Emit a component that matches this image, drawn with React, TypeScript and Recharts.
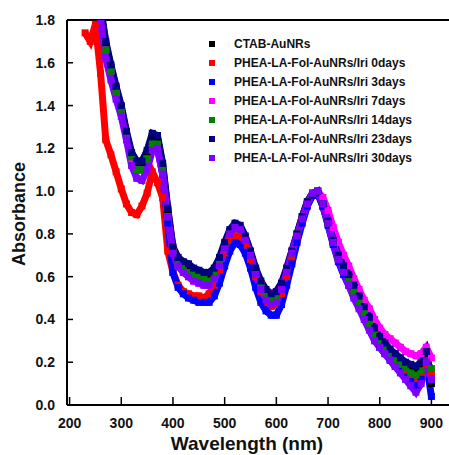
import React from "react";
import {
  ComposedChart,
  Line,
  XAxis,
  YAxis,
  Legend,
  ReferenceLine,
} from "recharts";

const wavelengths = [
  230, 240, 250,
  260, 270, 280, 290, 300, 310, 320, 330, 340, 350,
  360, 370, 380, 390, 400, 410, 420, 430, 440, 450,
  460, 470, 480, 490, 500, 510, 520, 530, 540, 550,
  560, 570, 580, 590, 600, 610, 620, 630, 640, 650,
  660, 670, 680, 690, 700, 710, 720, 730, 740, 750,
  760, 770, 780, 790, 800, 810, 820, 830, 840, 850,
  860, 870, 880, 890, 900,
];

const ctab = [
  null, null, null,
  1.85, 1.69, 1.58, 1.48, 1.39, 1.27, 1.17, 1.13, 1.13, 1.18,
  1.26, 1.25, 1.12, 0.91, 0.73, 0.68, 0.66, 0.65, 0.63, 0.62,
  0.61, 0.61, 0.63, 0.68, 0.75, 0.81, 0.84, 0.83, 0.78, 0.71,
  0.63, 0.57, 0.53, 0.51, 0.52, 0.56, 0.63, 0.71, 0.79, 0.87,
  0.94, 0.98, 0.99, 0.93, 0.85, 0.76, 0.69, 0.64, 0.6, 0.55,
  0.5, 0.45, 0.4, 0.35, 0.31, 0.28, 0.25, 0.23, 0.21, 0.19,
  0.18, 0.17, 0.19, 0.24, 0.1,
];

const day0 = [
  1.74, 1.7, 1.78,
  1.55, 1.24, 1.17, 1.09, 1.01, 0.94, 0.9, 0.89, 0.93, 0.99,
  1.09, 1.04, 0.97, 0.72, 0.62, 0.56, 0.53, 0.52, 0.51, 0.51,
  0.5, 0.52, 0.56, 0.63, 0.71, 0.77, 0.79, 0.79, 0.75, 0.68,
  0.6, 0.53, 0.48, 0.46, 0.47, 0.52, 0.6, 0.69, 0.78, 0.86,
  0.94, 0.98, 0.99, 0.93, 0.85, 0.76, 0.68, 0.62, 0.57, 0.52,
  0.47, 0.42, 0.37, 0.33, 0.29, 0.26, 0.23, 0.2, 0.17, 0.15,
  0.13, 0.12, 0.14, 0.19, 0.14,
];

const day3 = [
  null, null, null,
  1.82, 1.66, 1.56, 1.46, 1.37, 1.26, 1.15, 1.1, 1.1, 1.15,
  1.2, 1.2, 1.08, 0.85, 0.62, 0.55, 0.52, 0.5, 0.49, 0.48,
  0.48, 0.48, 0.51, 0.57, 0.65, 0.72, 0.76, 0.75, 0.71, 0.64,
  0.55, 0.48, 0.44, 0.42, 0.42, 0.47, 0.56, 0.66, 0.76, 0.85,
  0.93, 0.98, 0.99, 0.93, 0.84, 0.75, 0.67, 0.61, 0.56, 0.51,
  0.46, 0.41, 0.36, 0.31, 0.27, 0.24, 0.21, 0.18, 0.16, 0.13,
  0.11, 0.09, 0.12, 0.2, 0.04,
];

const day7 = [
  null, null, null,
  1.82, 1.66, 1.56, 1.46, 1.37, 1.26, 1.15, 1.1, 1.1, 1.15,
  1.21, 1.21, 1.09, 0.88, 0.72, 0.65, 0.62, 0.6, 0.58, 0.57,
  0.56, 0.56, 0.59, 0.65, 0.73, 0.8, 0.84, 0.83, 0.78, 0.71,
  0.63, 0.57, 0.53, 0.52, 0.53, 0.57, 0.64, 0.72, 0.8, 0.88,
  0.95, 0.99, 1.0, 0.97, 0.91, 0.83, 0.76, 0.7, 0.65, 0.59,
  0.54, 0.49, 0.45, 0.4, 0.36, 0.33, 0.31, 0.29, 0.27, 0.25,
  0.24, 0.23, 0.24, 0.27, 0.22,
];

const day14 = [
  null, null, null,
  1.83, 1.66, 1.56, 1.46, 1.38, 1.27, 1.16, 1.1, 1.1, 1.15,
  1.22, 1.22, 1.1, 0.88, 0.72, 0.66, 0.64, 0.62, 0.61, 0.6,
  0.59, 0.58, 0.61, 0.66, 0.74, 0.8, 0.83, 0.82, 0.77, 0.7,
  0.62, 0.56, 0.52, 0.5, 0.51, 0.55, 0.63, 0.71, 0.8, 0.88,
  0.95, 0.99, 1.0, 0.94, 0.85, 0.76, 0.68, 0.63, 0.58, 0.53,
  0.48, 0.43, 0.38, 0.33, 0.3, 0.27, 0.24, 0.21, 0.19, 0.17,
  0.15, 0.14, 0.16, 0.2, 0.17,
];

const day23 = [
  null, null, null,
  1.86, 1.7, 1.59, 1.49, 1.4, 1.28, 1.18, 1.14, 1.14, 1.19,
  1.27, 1.26, 1.13, 0.92, 0.74, 0.69, 0.67, 0.66, 0.64, 0.63,
  0.62, 0.62, 0.64, 0.69, 0.76, 0.82, 0.85, 0.84, 0.79, 0.72,
  0.64, 0.58, 0.54, 0.52, 0.53, 0.57, 0.64, 0.72, 0.8, 0.88,
  0.95, 0.99, 1.0, 0.94, 0.86, 0.77, 0.7, 0.65, 0.61, 0.56,
  0.51, 0.46, 0.41, 0.36, 0.32, 0.29, 0.26, 0.24, 0.22, 0.2,
  0.19, 0.18, 0.2, 0.25, 0.12,
];

const day30 = [
  null, null, null,
  1.8, 1.62, 1.52, 1.43, 1.35, 1.24, 1.12, 1.06, 1.05, 1.1,
  1.19, 1.2, 1.08, 0.88, 0.71, 0.65, 0.62, 0.6, 0.58, 0.57,
  0.56, 0.56, 0.59, 0.65, 0.73, 0.8, 0.83, 0.82, 0.77, 0.7,
  0.61, 0.54, 0.49, 0.47, 0.48, 0.54, 0.62, 0.71, 0.79, 0.87,
  0.94, 0.99, 1.0, 0.94, 0.85, 0.76, 0.68, 0.62, 0.56, 0.5,
  0.45, 0.4, 0.35, 0.3, 0.27, 0.24, 0.21, 0.18, 0.15, 0.12,
  0.09, 0.06, 0.1, 0.2, 0.12,
];

const xTicks = [200, 250, 300, 350, 400, 450, 500, 550, 600, 650, 700, 750, 800, 850, 900];
const yTicks = [0, 0.1, 0.2, 0.3, 0.4, 0.5, 0.6, 0.7, 0.8, 0.9, 1.0, 1.1, 1.2, 1.3, 1.4, 1.5, 1.6, 1.7, 1.8];

const series = [
  { key: "ctab", name: "CTAB-AuNRs", color: "#000000", values: ctab },
  { key: "d0", name: "PHEA-LA-Fol-AuNRs/Iri 0days", color: "#ff0000", values: day0 },
  { key: "d3", name: "PHEA-LA-Fol-AuNRs/Iri 3days", color: "#0000ff", values: day3 },
  { key: "d7", name: "PHEA-LA-Fol-AuNRs/Iri 7days", color: "#ff00ff", values: day7 },
  { key: "d14", name: "PHEA-LA-Fol-AuNRs/Iri 14days", color: "#008000", values: day14 },
  { key: "d23", name: "PHEA-LA-Fol-AuNRs/Iri 23days", color: "#000080", values: day23 },
  { key: "d30", name: "PHEA-LA-Fol-AuNRs/Iri 30days", color: "#8000ff", values: day30 },
];

const data = wavelengths.map((wl, i) => {
  const row: Record<string, number | null> = { wl };
  series.forEach((s) => {
    row[s.key] = s.values[i];
  });
  return row;
});

const FONT = "Arial, 'Liberation Sans', sans-serif";

const XTick = (props: any) => {
  const { x, y, payload } = props;
  const major = payload.value % 100 === 0;
  return (
    <g>
      <line x1={x} x2={x} y1={y} y2={y - (major ? 8 : 5)} stroke="#000" strokeWidth={1.5} />
      {major && (
        <text x={x} y={y + 23} textAnchor="middle" fontFamily={FONT} fontWeight="bold" fontSize={14} fill="#111">
          {payload.value}
        </text>
      )}
    </g>
  );
};

const YTick = (props: any) => {
  const { x, y, payload } = props;
  const v = payload.value;
  const major = Math.abs(v * 5 - Math.round(v * 5)) < 1e-6;
  return (
    <g>
      <line x1={x} x2={x + (major ? 6 : 4)} y1={y} y2={y} stroke="#000" strokeWidth={1.5} />
      {major && (
        <text x={x - 12} y={y} dy="0.36em" textAnchor="end" fontFamily={FONT} fontWeight="bold" fontSize={14} fill="#111">
          {v.toFixed(1)}
        </text>
      )}
    </g>
  );
};

const LegendBox = () => (
  <div style={{ fontFamily: FONT, fontWeight: "bold", fontSize: 12, color: "#111" }}>
    {series.map((s) => (
      <div key={s.key} style={{ display: "flex", alignItems: "center", height: 19 }}>
        <span style={{ width: 6, height: 6, background: s.color, display: "inline-block" }} />
        <span style={{ marginLeft: 19, whiteSpace: "nowrap" }}>{s.name}</span>
      </div>
    ))}
  </div>
);

export default function App() {
  return (
    <div style={{ position: "absolute", left: 0, top: 0, background: "#fff" }}>
      <ComposedChart width={449} height={455} data={data} margin={{ top: 20, right: 0, bottom: 0, left: 0 }}>
        <XAxis
          type="number"
          dataKey="wl"
          domain={[195, 934]}
          ticks={xTicks}
          allowDataOverflow
          height={50}
          tickSize={0}
          tickMargin={0}
          tickLine={false}
          tick={<XTick />}
          axisLine={{ stroke: "#000", strokeWidth: 2 }}
          label={{
            content: () => (
              <text x={247} y={450} textAnchor="middle" fontFamily={FONT} fontWeight="bold" fontSize={19} fill="#111">
                Wavelength (nm)
              </text>
            ),
          }}
        />
        <YAxis
          type="number"
          domain={[0, 1.8]}
          ticks={yTicks}
          allowDataOverflow
          width={67}
          tickSize={0}
          tickMargin={0}
          tickLine={false}
          tick={<YTick />}
          axisLine={{ stroke: "#000", strokeWidth: 2 }}
          label={{
            content: () => (
              <text
                x={19}
                y={214}
                transform="rotate(-90, 19, 214)"
                textAnchor="middle"
                dy="0.36em"
                fontFamily={FONT}
                fontWeight="bold"
                fontSize={18}
                fill="#111"
              >
                Absorbance
              </text>
            ),
          }}
        />
        <ReferenceLine y={1.8} stroke="#000" strokeWidth={2} />
        {series.map((s) => (
          <Line
            key={s.key}
            dataKey={s.key}
            name={s.name}
            type="linear"
            stroke={s.color}
            strokeWidth={7}
            isAnimationActive={false}
            activeDot={false}
            dot={(p: any) =>
              p.cx == null || p.cy == null || p.value == null ? (
                <g key={`${s.key}-${p.index}`} />
              ) : (
                <rect key={`${s.key}-${p.index}`} x={p.cx - 3.5} y={p.cy - 3.5} width={7} height={7} fill={s.color} />
              )
            }
          />
        ))}
        <Legend
          layout="vertical"
          align="center"
          verticalAlign="middle"
          content={() => <LegendBox />}
          wrapperStyle={{ left: 209, top: 34, width: 240 }}
        />
      </ComposedChart>
    </div>
  );
}
